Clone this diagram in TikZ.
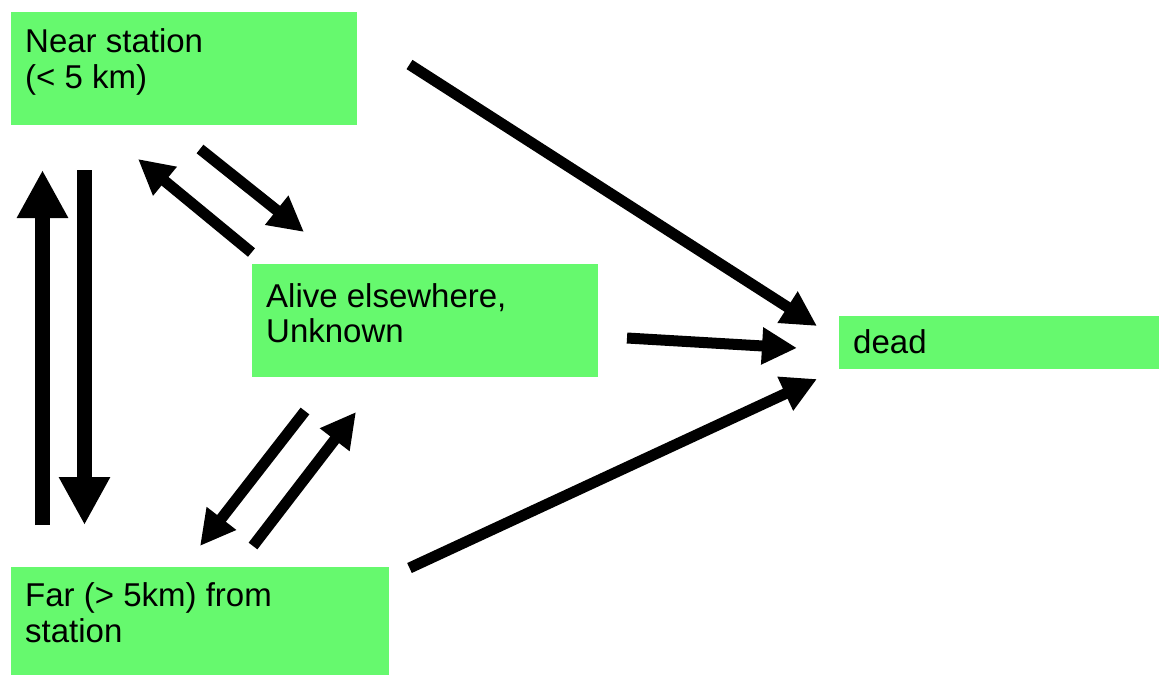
\documentclass[tikz,border=0pt]{standalone}
\usepackage{fontspec}
\setmainfont{Liberation Sans}
\usetikzlibrary{arrows.meta}
\definecolor{boxgreen}{RGB}{102,249,110}
\begin{document}
\begin{tikzpicture}[x=1pt,y=-1pt,
  statebox/.style={fill=boxgreen,draw=none,inner sep=0pt,anchor=north west},
  label/.style={anchor=base west,inner sep=0pt,font=\fontsize{33}{36}\selectfont,align=left},
  thin arrow/.style={line width=11pt,-{Triangle[length=35pt,width=35pt]}},
  thick arrow/.style={line width=15pt,-{Triangle[length=48pt,width=48pt]}}]
\useasboundingbox (0,0) rectangle (1159,675);
% boxes
\node[statebox,minimum width=346pt,minimum height=113pt] (near) at (11,12) {};
\node[statebox,minimum width=346pt,minimum height=113pt] (alive) at (252,264) {};
\node[statebox,minimum width=320pt,minimum height=53pt] (dead) at (839,316) {};
\node[statebox,minimum width=378pt,minimum height=108pt] (far) at (11,567) {};
% labels
\node[label] (tnear1) at (25,52) {Near station};
\node[label] (tnear2) at (25,88) {(< 5 km)};
\node[label] (talive1) at (266,307) {Alive elsewhere,};
\node[label] (talive2) at (266,342) {Unknown};
\node[label] (tdead) at (853,353) {dead};
\node[label] (tfar1) at (25,606) {Far (> 5km) from};
\node[label] (tfar2) at (25,642) {station};
% arrow endpoints
\coordinate (nd0) at (409.5,64.5);
\coordinate (nd1) at (817,326);
\coordinate (ad0) at (627,338);
\coordinate (ad1) at (797,348);
\coordinate (fd0) at (409.5,568);
\coordinate (fd1) at (817,379);
\coordinate (up0) at (42.5,525);
\coordinate (up1) at (42.5,170);
\coordinate (dn0) at (84.5,170);
\coordinate (dn1) at (84.5,525);
\coordinate (na0) at (200,149);
\coordinate (na1) at (304,232);
\coordinate (an0) at (251.5,252.5);
\coordinate (an1) at (138,159);
\coordinate (af0) at (305,411);
\coordinate (af1) at (200,546);
\coordinate (fa0) at (253,546);
\coordinate (fa1) at (356,412);
% arrows
\draw[thin arrow] (nd0) -- (nd1);
\draw[thin arrow] (ad0) -- (ad1);
\draw[thin arrow] (fd0) -- (fd1);
\draw[thick arrow] (up0) -- (up1);
\draw[thick arrow] (dn0) -- (dn1);
\draw[thin arrow] (na0) -- (na1);
\draw[thin arrow] (an0) -- (an1);
\draw[thin arrow] (af0) -- (af1);
\draw[thin arrow] (fa0) -- (fa1);
\end{tikzpicture}
\end{document}
